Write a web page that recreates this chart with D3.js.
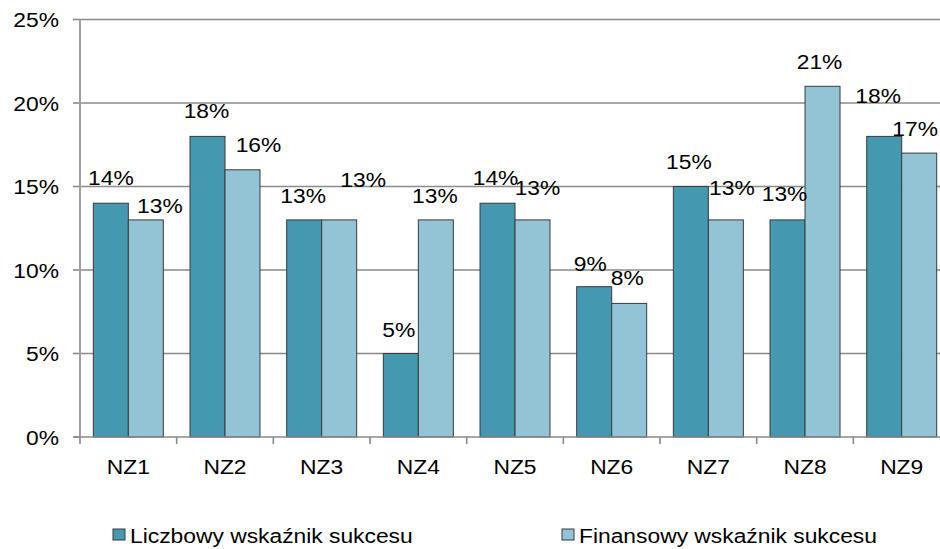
<!DOCTYPE html>
<html>
<head>
<meta charset="utf-8">
<script src="https://cdn.jsdelivr.net/npm/d3@7"></script>
<style>
  body { margin: 0; background: #fff; }
  text { font-family: "Liberation Sans", Arial, sans-serif; fill: #000; }
</style>
</head>
<body>
<div id="chart"></div>
<script>
const categories = ['NZ1', 'NZ2', 'NZ3', 'NZ4', 'NZ5', 'NZ6', 'NZ7', 'NZ8', 'NZ9']
const seriesNames = ['Liczbowy wskaźnik sukcesu', 'Finansowy wskaźnik sukcesu']
const liczbowy = [14, 18, 13, 5, 14, 9, 15, 13, 18]
const finansowy = [13, 16, 13, 13, 13, 8, 13, 21, 17]
const yTicks = [0, 5, 10, 15, 20, 25]

// label nudges (px) to mimic the hand-placed labels of the original
const labelShift = [
  [[0, -18], [14, -7]],
  [[-1, -18], [16, -18]],
  [[-1, -17], [24, -33]],
  [[-2, -17], [-1, -17]],
  [[-2, -18], [5, -25]],
  [[-4, -16], [-2, -18]],
  [[-2, -18], [6, -25]],
  [[-3, -19], [-3, -17]],
  [[-6, -33], [-4, -17]]
]

const w = 940
const h = 549
const plotLeft = 80
const plotBottom = 437
const plotTop = 19.5
const fontSize = 19.5
const stretch = 1.17
const colors = ['#4499b1', '#93c4d6']

const svg = d3.select('#chart').append('svg')
  .attr('width', w)
  .attr('height', h)

//SCALES
const xScale = d3.scaleBand()
  .domain(categories)
  .range([plotLeft, plotLeft + 9 * 96.67])
  .paddingInner(0.276)
  .paddingOuter(0.138)

const xSub = d3.scaleBand()
  .domain([0, 1])
  .range([0, xScale.bandwidth()])

const yScale = d3.scaleLinear()
  .domain([0, 25])
  .range([plotBottom, plotTop])

//GRIDLINES
svg.append('g')
  .selectAll('line')
  .data(yTicks.filter(d => d > 0))
  .enter()
  .append('line')
  .attr('x1', plotLeft)
  .attr('x2', w)
  .attr('y1', d => yScale(d))
  .attr('y2', d => yScale(d))
  .attr('stroke', '#8a8a8a')
  .attr('stroke-width', 1.6)

// y tick marks
svg.append('g')
  .selectAll('line')
  .data(yTicks)
  .enter()
  .append('line')
  .attr('x1', plotLeft - 7)
  .attr('x2', plotLeft)
  .attr('y1', d => yScale(d))
  .attr('y2', d => yScale(d))
  .attr('stroke', '#8a8a8a')
  .attr('stroke-width', 1.6)

// y tick labels
svg.append('g')
  .selectAll('text')
  .data(yTicks)
  .enter()
  .append('text')
  .attr('text-anchor', 'end')
  .attr('font-size', fontSize)
  .attr('transform', d => `translate(59,${yScale(d) + 7.5}) scale(${stretch},1)`)
  .text(d => d + '%')

//BARS
const data = categories.map((c, i) => ({ cat: c, i: i, vals: [liczbowy[i], finansowy[i]] }))

const groups = svg.append('g')
  .selectAll('g')
  .data(data)
  .enter()
  .append('g')
  .attr('transform', d => `translate(${xScale(d.cat)},0)`)

groups.selectAll('rect')
  .data(d => d.vals.map((v, s) => ({ v, s })))
  .enter()
  .append('rect')
  .attr('x', d => xSub(d.s))
  .attr('y', d => yScale(d.v))
  .attr('width', xSub.bandwidth())
  .attr('height', d => plotBottom - yScale(d.v))
  .attr('fill', d => colors[d.s])
  .attr('stroke', '#3a3a3a')
  .attr('stroke-width', 1)

// value labels
groups.selectAll('text')
  .data(d => d.vals.map((v, s) => ({ v, s, i: d.i })))
  .enter()
  .append('text')
  .attr('text-anchor', 'middle')
  .attr('font-size', fontSize)
  .attr('transform', d => {
    const x = xSub(d.s) + xSub.bandwidth() / 2 + labelShift[d.i][d.s][0]
    const y = yScale(d.v) + labelShift[d.i][d.s][1]
    return `translate(${x},${y}) scale(${stretch},1)`
  })
  .text(d => d.v + '%')

//AXES
svg.append('line')
  .attr('x1', plotLeft)
  .attr('x2', plotLeft)
  .attr('y1', plotTop)
  .attr('y2', plotBottom)
  .attr('stroke', '#a0a0a0')
  .attr('stroke-width', 2)

svg.append('line')
  .attr('x1', plotLeft - 7)
  .attr('x2', w)
  .attr('y1', plotBottom)
  .attr('y2', plotBottom)
  .attr('stroke', '#8a8a8a')
  .attr('stroke-width', 1.6)

// category boundary ticks
svg.append('g')
  .selectAll('line')
  .data(categories)
  .enter()
  .append('line')
  .attr('x1', d => xScale(d) - xScale.step() * 0.138)
  .attr('x2', d => xScale(d) - xScale.step() * 0.138)
  .attr('y1', plotBottom)
  .attr('y2', plotBottom + 7)
  .attr('stroke', '#8a8a8a')
  .attr('stroke-width', 1.6)

svg.append('g')
  .selectAll('text')
  .data(categories)
  .enter()
  .append('text')
  .attr('text-anchor', 'middle')
  .attr('font-size', fontSize)
  .attr('transform', d => `translate(${xScale(d) + xScale.bandwidth() / 2},474) scale(${stretch},1)`)
  .text(d => d)

//LEGEND
const legendX = [113, 562]
const legend = svg.append('g')
  .selectAll('g')
  .data(seriesNames)
  .enter()
  .append('g')
  .attr('transform', (d, i) => `translate(${legendX[i]},529)`)

legend.append('rect')
  .attr('width', 12)
  .attr('height', 11)
  .attr('fill', (d, i) => colors[i])
  .attr('stroke', '#3a3a3a')
  .attr('stroke-width', 1)

legend.append('text')
  .attr('font-size', fontSize)
  .attr('transform', `translate(17,14) scale(${stretch},1)`)
  .text(d => d)
</script>
</body>
</html>
